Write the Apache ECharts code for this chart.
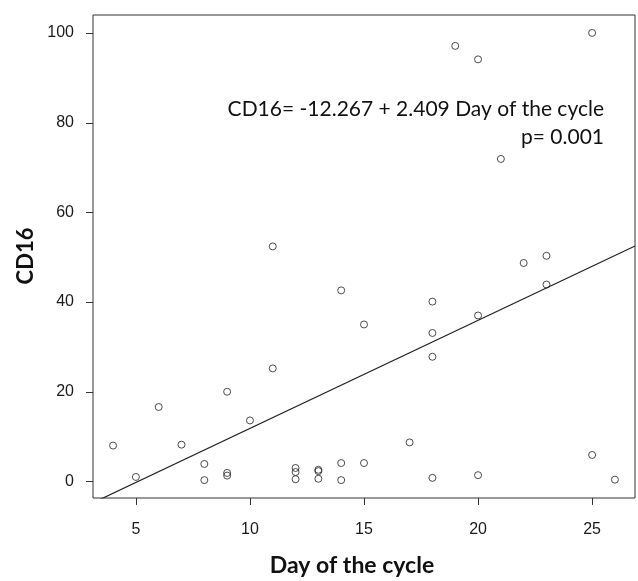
<!DOCTYPE html>
<html><head><meta charset="utf-8">
<script src="https://cdn.jsdelivr.net/npm/echarts@6/dist/echarts.min.js"></script>
<style>html,body{margin:0;padding:0;background:#fff}#c{width:638px;height:581px}</style>
</head><body><div id="c"></div>
<script>
// Data
const days = [4,5,6,7,8,8,9,9,9,10,11,11,12,12,12,13,13,13,14,14,14,15,15,17,18,18,18,18,19,20,20,20,21,22,23,23,25,25,26];
const cd16 = [8.0,1.0,16.6,8.2,3.9,0.3,20.0,1.9,1.3,13.6,52.4,25.2,3.0,2.1,0.5,2.6,2.3,0.6,42.6,4.1,0.3,35.0,4.1,8.7,40.1,33.1,27.8,0.8,97.1,94.1,37.0,1.4,71.9,48.7,50.3,43.9,100,5.9,0.4];
const xTicks = [5,10,15,20,25];
const yTicks = [0,20,40,60,80,100];
const fitIntercept = -12.267;
const fitSlope = 2.409;
const xRange = [3.12, 26.88];
const yRange = [-3.69, 103.99];
const eqLine1 = 'CD16= -12.267 + 2.409 Day of the cycle';
const eqLine2 = 'p= 0.001';
const xTitle = 'Day of the cycle';
const yTitle = 'CD16';

const points = days.map((d, i) => [d, cd16[i]]);
const fitLine = xRange.map(x => [x, fitIntercept + fitSlope * x]);

const chart = echarts.init(document.getElementById('c'), null, {renderer: 'canvas'});
const axisColor = '#333';
const tickLen = 7;
const textGraphics = [
  {id: 'eq1', type: 'text', x: 604, y: 109, style: {text: eqLine1, align: 'right', verticalAlign: 'middle', font: '21px Lato', fill: '#111'}},
  {id: 'eq2', type: 'text', x: 604, y: 137, style: {text: eqLine2, align: 'right', verticalAlign: 'middle', font: '21px Lato', fill: '#111'}},
  {id: 'xt', type: 'text', x: 352, y: 566, style: {text: xTitle, align: 'center', verticalAlign: 'middle', font: 'bold 23px Lato', fill: '#111'}},
  {id: 'yt', type: 'text', x: 26, y: 256, rotation: Math.PI / 2, style: {text: yTitle, align: 'center', verticalAlign: 'middle', font: 'bold 22px Lato', fill: '#111'}}
];
chart.setOption({
  animation: false,
  backgroundColor: '#fff',
  grid: {left: 93, right: 3, top: 15, bottom: 83, show: true, borderColor: axisColor, borderWidth: 1, backgroundColor: 'transparent'},
  xAxis: {
    type: 'value', min: xRange[0], max: xRange[1], position: 'bottom',
    axisLine: {show: false, onZero: false},
    splitLine: {show: false},
    axisTick: {show: false},
    axisLabel: {customValues: xTicks, margin: 24, color: '#1a1a1a', fontFamily: 'Liberation Sans', fontSize: 16}
  },
  yAxis: {
    type: 'value', min: yRange[0], max: yRange[1], position: 'left',
    axisLine: {show: false, onZero: false},
    splitLine: {show: false},
    axisTick: {show: false},
    axisLabel: {customValues: yTicks, margin: 19, color: '#1a1a1a', fontFamily: 'Liberation Sans', fontSize: 16}
  },
  series: [
    {
      type: 'scatter', data: points, symbol: 'circle', symbolSize: 7,
      itemStyle: {color: 'rgba(0,0,0,0)', borderColor: '#222', borderWidth: 1}
    },
    {
      type: 'line', data: fitLine, symbol: 'none', clip: true,
      lineStyle: {color: '#222', width: 1.2}
    }
  ],
  graphic: textGraphics
});

// Tick marks placed through the axes' own scales
const yBottom = chart.convertToPixel({yAxisIndex: 0}, yRange[0]);
const xLeft = chart.convertToPixel({xAxisIndex: 0}, xRange[0]);
const tickGraphics = [];
xTicks.forEach((v, i) => {
  const px = Math.round(chart.convertToPixel({xAxisIndex: 0}, v)) + 0.5;
  tickGraphics.push({id: 'xtick' + i, type: 'line', silent: true,
    shape: {x1: px, y1: yBottom, x2: px, y2: yBottom + tickLen},
    style: {stroke: axisColor, lineWidth: 1}});
});
yTicks.forEach((v, i) => {
  const py = Math.round(chart.convertToPixel({yAxisIndex: 0}, v)) + 0.5;
  tickGraphics.push({id: 'ytick' + i, type: 'line', silent: true,
    shape: {x1: xLeft, y1: py, x2: xLeft - tickLen, y2: py},
    style: {stroke: axisColor, lineWidth: 1}});
});
chart.setOption({graphic: textGraphics.concat(tickGraphics)});
</script>
</body></html>
